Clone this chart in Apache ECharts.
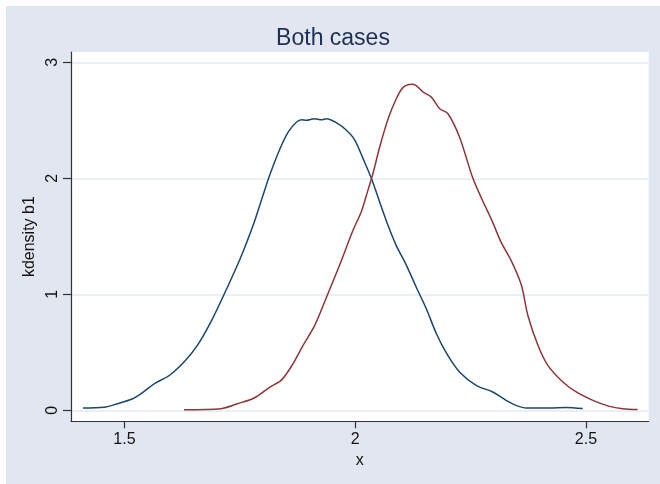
<!DOCTYPE html>
<html>
<head>
<meta charset="utf-8">
<script src="https://cdn.jsdelivr.net/npm/echarts@6/dist/echarts.min.js"></script>
<style>
html,body{margin:0;padding:0;background:#ffffff;}
#c{position:absolute;left:6px;top:6px;width:654px;height:478px;}
</style>
</head>
<body>
<div id="c"></div>
<script>
var titleText = 'Both cases';
var xName = 'x';
var yName = 'kdensity b1';
var xTicks = [1.5, 2, 2.5];
var yTicks = [0, 1, 2, 3];

var blueX = [1.410,1.456,1.485,1.518,1.536,1.565,1.597,1.629,1.658,1.687,1.716,1.752,1.781,1.795,1.815,1.837,1.855,1.873,1.884,1.894,1.912,1.927,1.938,1.959,1.981,1.999,2.017,2.035,2.053,2.071,2.089,2.111,2.132,2.154,2.176,2.198,2.226,2.262,2.298,2.327,2.350,2.371,2.421,2.457,2.493];
var blueY = [0.020,0.026,0.057,0.100,0.143,0.230,0.300,0.416,0.560,0.760,1.000,1.320,1.620,1.790,2.030,2.255,2.400,2.485,2.505,2.500,2.514,2.505,2.514,2.480,2.414,2.330,2.170,2.000,1.796,1.595,1.420,1.250,1.063,0.876,0.660,0.490,0.330,0.215,0.158,0.086,0.040,0.020,0.020,0.025,0.015];

var redX = [1.629,1.709,1.745,1.781,1.815,1.840,1.865,1.887,1.912,1.938,1.966,1.995,2.013,2.024,2.039,2.053,2.071,2.089,2.103,2.122,2.132,2.147,2.165,2.183,2.201,2.226,2.255,2.277,2.298,2.316,2.338,2.360,2.374,2.396,2.417,2.450,2.479,2.515,2.551,2.580,2.612];
var redY = [0.005,0.014,0.057,0.106,0.200,0.260,0.400,0.560,0.730,0.977,1.250,1.550,1.710,1.850,2.050,2.270,2.510,2.686,2.780,2.810,2.800,2.744,2.700,2.600,2.557,2.356,2.000,1.800,1.620,1.450,1.290,1.080,0.820,0.560,0.390,0.244,0.158,0.086,0.034,0.014,0.007];

function pairs(xs, ys){ var out=[]; for(var i=0;i<xs.length;i++){ out.push([xs[i], ys[i]]); } return out; }

var chart = echarts.init(document.getElementById('c'), null, {renderer:'canvas'});
var font = 'Liberation Sans, Arial, sans-serif';
chart.setOption({
  backgroundColor: '#e1e6f0',
  animation: false,
  title: {
    text: titleText,
    left: 'center',
    top: 16,
    textStyle: {fontFamily: font, fontSize: 23, fontWeight: 'normal', color: '#1e2f55'}
  },
  grid: {
    left: 65, right: 11.3, top: 46, bottom: 62.7,
    show: true, backgroundColor: '#ffffff', borderWidth: 0
  },
  xAxis: {
    type: 'value',
    min: 1.3841, max: 2.636,
    name: xName, nameLocation: 'middle', nameGap: 29,
    nameTextStyle: {fontFamily: font, fontSize: 16, color: '#111'},
    axisLine: {show: true, onZero: false, lineStyle: {color: '#333', width: 1.2}},
    axisTick: {show: true, length: 7, customValues: xTicks, lineStyle: {color: '#333', width: 1.2}},
    axisLabel: {customValues: xTicks, margin: 10, fontFamily: font, fontSize: 16, color: '#111',
      formatter: function(v){ return String(v); }},
    splitLine: {show: false}
  },
  yAxis: {
    type: 'value',
    min: -0.0948, max: 3.089,
    name: yName, nameLocation: 'middle', nameGap: 24, nameRotate: 90,
    nameTextStyle: {fontFamily: font, fontSize: 16, color: '#111'},
    axisLine: {show: true, onZero: false, lineStyle: {color: '#333', width: 1.2}},
    axisTick: {show: true, length: 8, customValues: yTicks, lineStyle: {color: '#333', width: 1.2}},
    axisLabel: {customValues: yTicks, rotate: 90, margin: 10, fontFamily: font, fontSize: 16, color: '#111',
      formatter: function(v){ return String(v); }},
    splitLine: {show: true, lineStyle: {color: '#e3e8f2', width: 1.6}}
  },
  series: [
    {
      type: 'line', data: pairs(blueX, blueY), showSymbol: false, smooth: 0.3,
      lineStyle: {color: '#1a476f', width: 1.5}, itemStyle: {color: '#1a476f'}, z: 3
    },
    {
      type: 'line', data: pairs(redX, redY), showSymbol: false, smooth: 0.3,
      lineStyle: {color: '#90353b', width: 1.5}, itemStyle: {color: '#90353b'}, z: 3
    }
  ]
});
</script>
</body>
</html>
